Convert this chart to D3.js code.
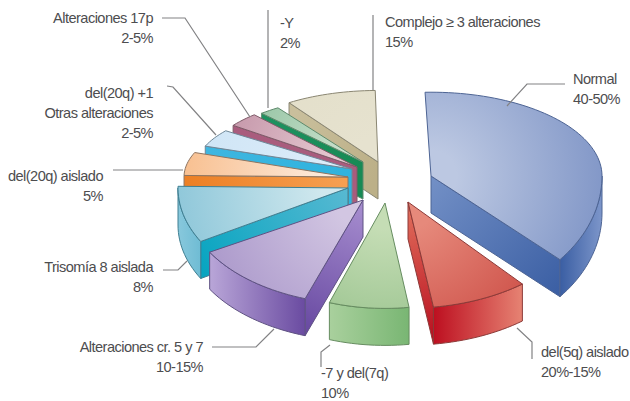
<!DOCTYPE html>
<html>
<head>
<meta charset="utf-8">
<script src="https://cdn.jsdelivr.net/npm/d3@7"></script>
<style>
  html, body { margin: 0; padding: 0; background: #fff; }
  text { font-family: "Liberation Sans", Arial, sans-serif; font-size: 14.6px; letter-spacing: -0.55px; fill: #4d4d4f; }
</style>
</head>
<body>
<div id="chart"></div>
<script>
var categories = ['Normal', 'del(5q) aislado', '-7 y del(7q)', 'Alteraciones cr. 5 y 7', 'Trisomía 8 aislada',
  'del(20q) aislado', 'del(20q) +1 Otras alteraciones', 'Alteraciones 17p', '-Y', 'Complejo ≥ 3 alteraciones'];
var values = [45, 15, 10, 12, 8, 5, 4, 3, 2, 15];
var valueLabels = ['40-50%', '20%-15%', '10%', '10-15%', '8%', '5%', '2-5%', '2-5%', '2%', '15%'];

var width = 630, height = 401, depth = 37;

// where each slice sits once pulled out of the pie, and its own size
var shifts = [[69, -4], [46, 22], [23, 23], [1, 20], [-14, 8], [-14, -3], [-10, -11], [-5, -13], [1, -18], [16, -18]];
var radii = [171, 180, 170, 177, 170, 164, 157, 154, 152, 159];
var tilts = [[0.49, 0.745], [0.45, 0.59], [0.45, 0.62], [0.45, 0.59], [0.45, 0.63],
  [0.42, 0.55], [0.41, 0.55], [0.455, 0.55], [0.43, 0.55], [0.45, 0.55]];
// degrees left open at the start of a slice
var trims = [0, 9.5, 0, 0, 0, 0, 0, 0, 0, 0];

// colours: top surface [centre, rim], outer wall [left, right], cut face [centre, rim], outline
var topColors = [['#bcc8e2', '#8398c8'], ['#e6897b', '#c9463f'], ['#c5ddb5', '#8fbd85'], ['#d2c6e2', '#a895c9'],
  ['#d0e8ee', '#90c8da'], ['#fdeadb', '#f8c091'], ['#dcecf9', '#cfe5f6'], ['#e6c9d1', '#c08fa4'],
  ['#c9e0cc', '#88bd99'], ['#e6e2cf', '#e2dec8']];
var wallColors = [['#3a5ea3', '#7d96ca'], ['#bd0f20', '#e68373'], ['#a9d09d', '#79b673'], ['#b9a6d8', '#6a4ba1'],
  ['#88c8dc', '#6fbcd4'], ['#f08a32', '#f08a32'], ['#35b2dc', '#35b2dc'], ['#a95c7d', '#a95c7d'],
  ['#1d8a57', '#1d8a57'], ['#c2b68f', '#c2b68f']];
var faceColors = [['#7390c6', '#3a5ea3'], ['#e2725e', '#b80d1e'], ['#79b673', '#79b673'], ['#a88fd0', '#6647a0'],
  ['#58b9d2', '#05a4c0'], ['#f6a052', '#ec7e22'], ['#2fb3de', '#3fb6e0'], ['#a95c7d', '#a95c7d'],
  ['#178a55', '#1f9160'], ['#bcb088', '#c9bf9c']];
var edgeColors = ['#4d6494', '#8c3a38', '#668c60', '#5f5283', '#3f7f92', '#8d7460', '#6f8797', '#7f5a68', '#5f8a6c', '#8a8672'];

// text blocks: lines, x, first baseline, anchor
var labelLines = [
  ['Normal', valueLabels[0]], ['del(5q) aislado', valueLabels[1]], ['-7 y del(7q)', valueLabels[2]],
  ['Alteraciones cr. 5 y 7', valueLabels[3]], ['Trisomía 8 aislada', valueLabels[4]], ['del(20q) aislado', valueLabels[5]],
  ['del(20q) +1', 'Otras alteraciones', valueLabels[6]], ['Alteraciones 17p', valueLabels[7]], ['-Y', valueLabels[8]],
  ['Complejo ≥ 3 alteraciones', valueLabels[9]]];
var labelSpots = [[573, 84, 'start'], [541, 357, 'start'], [321, 378, 'start'], [203, 352, 'end'], [153, 272, 'end'],
  [103, 181, 'end'], [153, 98, 'end'], [153, 23, 'end'], [280, 28, 'start'], [385, 27, 'start']];
var leaders = [
  [[565, 84], [527, 84], [507, 106]], [[517, 328], [532, 342], [532, 359]], [[330, 345], [321, 352], [321, 367]],
  [[212, 347], [256, 347], [274, 329]], [[163, 270], [178, 270], [187, 261]], [[113, 170], [183, 170]],
  [[167, 86], [173, 87], [216, 135]], [[162, 18], [185, 18], [250, 117]], [[268, 10], [268, 108]], [[373, 15], [373, 90]]];

var pieCenter = [362, 180];

// the view foreshortens the near side, so pie fractions are bent a little into bearings
var bearing = d3.scaleLinear()
  .domain([0, 0.378, 0.588, 0.689, 0.874, 1])
  .range([-2, 131, 199, 240, 326, 359]);

var slices = d3.pie().sort(null).value(function(d) { return d; })(values).map(function(p, i) {
  return {
    i: i,
    a0: bearing(p.startAngle / (2 * Math.PI)) + trims[i],
    a1: bearing(p.endAngle / (2 * Math.PI)),
    apex: [pieCenter[0] + shifts[i][0], pieCenter[1] + shifts[i][1]],
    r: radii[i]
  };
});

function rim(s, deg, drop) {
  var t = deg * Math.PI / 180;
  var c = Math.cos(t);
  var tilt = c > 0 ? tilts[s.i][0] : tilts[s.i][1];
  return [s.apex[0] + s.r * Math.sin(t), s.apex[1] - s.r * c * tilt + (drop || 0)];
}

function rimPoints(s, from, to, drop) {
  var n = Math.max(2, Math.ceil(Math.abs(to - from) / 2));
  return d3.range(n + 1).map(function(k) { return rim(s, from + (to - from) * k / n, drop); });
}

var line = d3.line();
var svg = d3.select('#chart').append('svg').attr('width', width).attr('height', height);
svg.append('rect').attr('width', width).attr('height', height).attr('fill', '#fff');
var defs = svg.append('defs');

function linearGradient(id, a, b, colors) {
  var g = defs.append('linearGradient').attr('id', id).attr('gradientUnits', 'userSpaceOnUse')
    .attr('x1', a[0]).attr('y1', a[1]).attr('x2', b[0]).attr('y2', b[1]);
  g.append('stop').attr('offset', 0).attr('stop-color', colors[0]);
  g.append('stop').attr('offset', 1).attr('stop-color', colors[1]);
  return 'url(#' + id + ')';
}

function radialGradient(id, c, r, colors) {
  var g = defs.append('radialGradient').attr('id', id).attr('gradientUnits', 'userSpaceOnUse')
    .attr('cx', c[0]).attr('cy', c[1]).attr('r', r);
  g.append('stop').attr('offset', 0.15).attr('stop-color', colors[0]);
  g.append('stop').attr('offset', 1).attr('stop-color', colors[1]);
  return 'url(#' + id + ')';
}

function shape(g, pts, fill, edge) {
  g.append('path').attr('d', line(pts) + 'Z').attr('fill', fill)
    .attr('stroke', edge).attr('stroke-width', 1).attr('stroke-linejoin', 'round');
}

// back slices first, the two lower right ones last
var paintOrder = [9, 8, 7, 6, 5, 4, 3, 2, 0, 1];

paintOrder.forEach(function(i) {
  var s = slices[i];
  var g = svg.append('g').attr('class', 'slice');
  var bottomApex = [s.apex[0], s.apex[1] + depth];

  // cut face on the clockwise end, seen for slices ending on the right
  if (s.a1 > 0 && s.a1 < 180) {
    var e1 = rim(s, s.a1), e1b = rim(s, s.a1, depth);
    shape(g, [s.apex, e1, e1b, bottomApex],
      linearGradient('face-end-' + i, s.apex, e1b, faceColors[i]), edgeColors[i]);
  }
  // cut face on the opening end, seen for slices starting on the left
  if (s.a0 > 180 && s.a0 < 360) {
    var e0 = rim(s, s.a0), e0b = rim(s, s.a0, depth);
    shape(g, [s.apex, e0, e0b, bottomApex],
      linearGradient('face-start-' + i, s.apex, e0b, faceColors[i]), edgeColors[i]);
  }
  // outer wall
  var w0 = Math.max(s.a0, 90), w1 = Math.min(s.a1, 270);
  if (w1 > w0) {
    var wall = rimPoints(s, w0, w1, 0).concat(rimPoints(s, w1, w0, depth));
    var xs = d3.extent(wall, function(p) { return p[0]; });
    shape(g, wall, linearGradient('wall-' + i, [xs[0], 0], [xs[1], 0], wallColors[i]), edgeColors[i]);
  }
  // top surface
  var top = [s.apex].concat(rimPoints(s, s.a0, s.a1, 0));
  shape(g, top, radialGradient('top-' + i, s.apex, s.r, topColors[i]), edgeColors[i]);
});

// leader lines
svg.append('g').selectAll('path').data(leaders).join('path')
  .attr('d', function(d) { return line(d); })
  .attr('fill', 'none').attr('stroke', '#828284').attr('stroke-width', 1.2);

// labels
categories.forEach(function(name, i) {
  var spot = labelSpots[i];
  var t = svg.append('text').attr('class', 'label').attr('text-anchor', spot[2]);
  labelLines[i].forEach(function(txt, k) {
    t.append('tspan').attr('x', spot[0]).attr('y', spot[1] + k * 20).text(txt);
  });
});
</script>
</body>
</html>
